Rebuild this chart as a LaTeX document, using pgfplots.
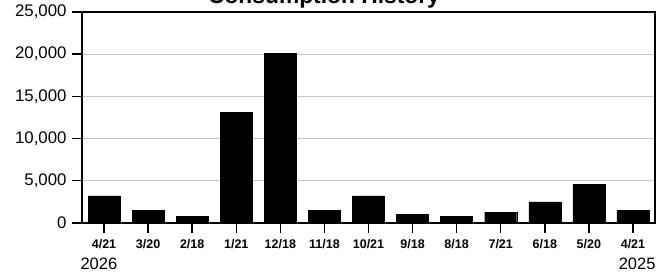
\documentclass[border=0pt]{standalone}
\usepackage{fontspec}
\setmainfont{Liberation Sans}
\usepackage{pgfplots}
\pgfplotsset{compat=1.18}
\begin{document}
\begin{tikzpicture}[x=1pt,y=1pt]
\begin{axis}[
  at={(0,0)}, anchor=south west,
  scale only axis, width=573pt, height=211pt,
  xmin=-0.5, xmax=12.5, ymin=0, ymax=25000,
  ytick={0,5000,10000,15000,20000,25000},
  xtick={0,...,12},
  xticklabels={4/21,3/20,2/18,1/21,12/18,11/18,10/21,9/18,8/18,7/21,6/18,5/20,4/21},
  scaled y ticks=false,
  /pgf/number format/1000 sep={,},
  /pgf/number format/assume math mode=true,
  ymajorgrids, grid style={black!22, line width=1pt},
  axis line style={line width=1.6pt},
  tick style={black, line width=1.4pt},
  tick align=outside, major tick length=10pt,
  xtick pos=bottom, ytick pos=left,
  x tick label style={font=\fontsize{12.5}{13}\selectfont\bfseries, yshift=-3pt},
  y tick label style={font=\fontsize{16.8}{18}\selectfont, xshift=-2pt},
]
\addplot[ybar, bar width=32pt, fill=black, draw=black] coordinates {
  (0,3200) (1,1500) (2,800) (3,13150) (4,20100) (5,1500) (6,3200)
  (7,1050) (8,800) (9,1300) (10,2500) (11,4600) (12,1500)
};
\end{axis}
\node[anchor=base, font=\bfseries\fontsize{22.8}{24}\selectfont] at (242,219) {Consumption History};
\node[anchor=west, font=\fontsize{16.5}{18}\selectfont] at (-5,-41) {2026};
\node[anchor=east, font=\fontsize{16.5}{18}\selectfont] at (577,-41) {2025};
\pgfresetboundingbox
\useasboundingbox (-82,-49) rectangle (586,223);
\end{tikzpicture}
\end{document}
